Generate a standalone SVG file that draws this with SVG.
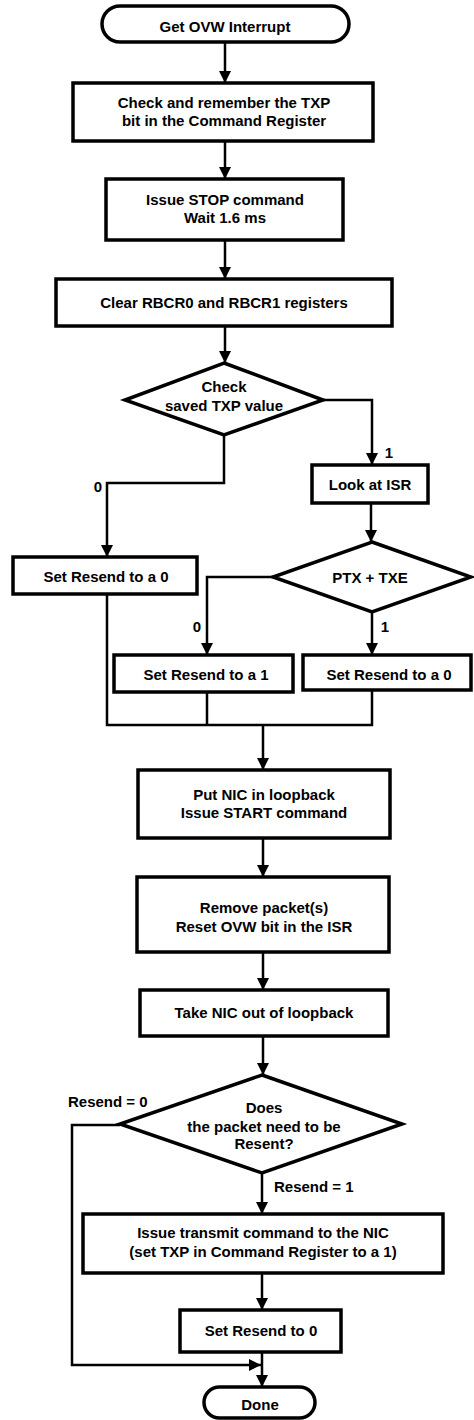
<svg xmlns="http://www.w3.org/2000/svg" width="474" height="1420" viewBox="0 0 474 1420">
<style>
.box{fill:#fff;stroke:#000;stroke-width:3.5}
.ln{fill:none;stroke:#000;stroke-width:2.5}
.t{font-family:"Liberation Sans",Arial,sans-serif;font-weight:bold;font-size:15px;fill:#000;text-anchor:middle}
.l{font-family:"Liberation Sans",Arial,sans-serif;font-weight:bold;font-size:15px;fill:#000}
</style>
<defs>
<marker id="ah" viewBox="0 0 12 12" refX="12" refY="6" markerWidth="12" markerHeight="12" markerUnits="userSpaceOnUse" orient="auto"><path d="M0,0 L12,6 L0,12 z" fill="#000"/></marker>
</defs>
<rect width="474" height="1420" fill="#fff"/>
<g id="connectors">
<path class="ln" d="M225,42 V83" marker-end="url(#ah)"/>
<path class="ln" d="M225,141 V179" marker-end="url(#ah)"/>
<path class="ln" d="M225,240 V279" marker-end="url(#ah)"/>
<path class="ln" d="M225,326 V363" marker-end="url(#ah)"/>
<path class="ln" d="M323,400 H372 V465" marker-end="url(#ah)"/>
<path class="ln" d="M224,435 V483 H107 V557" marker-end="url(#ah)"/>
<path class="ln" d="M371,503 V542" marker-end="url(#ah)"/>
<path class="ln" d="M273,577 H207 V655" marker-end="url(#ah)"/>
<path class="ln" d="M372,612 V655" marker-end="url(#ah)"/>
<path class="ln" d="M107,594 V725 H372 V690 M207,692 V725"/>
<path class="ln" d="M263,725 V770" marker-end="url(#ah)"/>
<path class="ln" d="M263,838 V877" marker-end="url(#ah)"/>
<path class="ln" d="M263,952 V990" marker-end="url(#ah)"/>
<path class="ln" d="M263,1036 V1075" marker-end="url(#ah)"/>
<path class="ln" d="M262,1173 V1214" marker-end="url(#ah)"/>
<path class="ln" d="M262,1273 V1310" marker-end="url(#ah)"/>
<path class="ln" d="M262,1352 V1387" marker-end="url(#ah)"/>
<path class="ln" d="M120,1125 H72 V1365 H261" marker-end="url(#ah)"/>
<text class="l" x="98" y="492" text-anchor="middle">0</text>
<text class="l" x="389" y="458" text-anchor="middle">1</text>
<text class="l" x="197" y="632" text-anchor="middle">0</text>
<text class="l" x="385" y="632" text-anchor="middle">1</text>
<text class="l" x="68" y="1107">Resend = 0</text>
<text class="l" x="274" y="1192">Resend = 1</text>
</g>
<g id="start">
<rect class="box" x="102" y="6" width="247" height="36" rx="18"/>
<text class="t" x="225" y="32">Get OVW Interrupt</text>
</g>
<g id="check-txp">
<rect class="box" x="73" y="83" width="300" height="58"/>
<text class="t" x="224" y="108">Check and remember the TXP</text>
<text class="t" x="224" y="126">bit in the Command Register</text>
</g>
<g id="stop">
<rect class="box" x="106" y="179" width="237" height="61"/>
<text class="t" x="225" y="205">Issue STOP command</text>
<text class="t" x="225" y="223">Wait 1.6 ms</text>
</g>
<g id="clear">
<rect class="box" x="56" y="279" width="336" height="47"/>
<text class="t" x="224" y="308">Clear RBCR0 and RBCR1 registers</text>
</g>
<g id="dec-txp">
<polygon class="box" points="224,363 323,400 224,435 125,400"/>
<text class="t" x="224" y="392">Check</text>
<text class="t" x="224" y="411">saved TXP value</text>
</g>
<g id="look-isr">
<rect class="box" x="312" y="465" width="116" height="38"/>
<text class="t" x="370" y="490">Look at ISR</text>
</g>
<g id="set0-left">
<rect class="box" x="13" y="557" width="184" height="37"/>
<text class="t" x="106" y="582">Set Resend to a 0</text>
</g>
<g id="dec-ptx">
<polygon class="box" points="372,542 471,577 372,612 273,577"/>
<text class="t" x="370" y="583">PTX + TXE</text>
</g>
<g id="set1">
<rect class="box" x="114" y="655" width="179" height="37"/>
<text class="t" x="206" y="680">Set Resend to a 1</text>
</g>
<g id="set0-right">
<rect class="box" x="303" y="655" width="168" height="35"/>
<text class="t" x="389" y="680">Set Resend to a 0</text>
</g>
<g id="loopback">
<rect class="box" x="138" y="770" width="252" height="68"/>
<text class="t" x="264" y="800">Put NIC in loopback</text>
<text class="t" x="264" y="818">Issue START command</text>
</g>
<g id="remove">
<rect class="box" x="137" y="877" width="252" height="75"/>
<text class="t" x="264" y="913">Remove packet(s)</text>
<text class="t" x="264" y="932">Reset OVW bit in the ISR</text>
</g>
<g id="take-out">
<rect class="box" x="140" y="990" width="248" height="46"/>
<text class="t" x="264" y="1018">Take NIC out of loopback</text>
</g>
<g id="dec-resend">
<polygon class="box" points="262,1075 402,1124 262,1173 120,1124"/>
<text class="t" x="264" y="1113">Does</text>
<text class="t" x="264" y="1132">the packet need to be</text>
<text class="t" x="264" y="1149">Resent?</text>
</g>
<g id="transmit">
<rect class="box" x="83" y="1214" width="360" height="59"/>
<text class="t" x="263" y="1238">Issue transmit command to the NIC</text>
<text class="t" x="263" y="1257">(set TXP in Command Register to a 1)</text>
</g>
<g id="reset0">
<rect class="box" x="180" y="1310" width="161" height="42"/>
<text class="t" x="261" y="1336">Set Resend to 0</text>
</g>
<g id="done">
<rect class="box" x="204" y="1387" width="111" height="31" rx="15.5"/>
<text class="t" x="260" y="1410">Done</text>
</g>
</svg>
